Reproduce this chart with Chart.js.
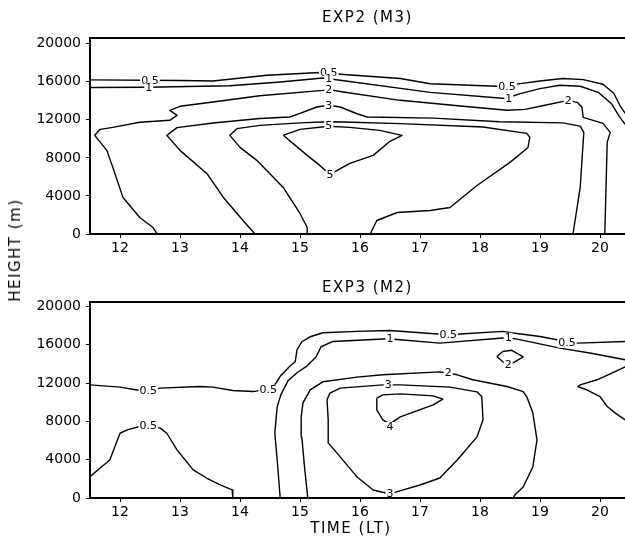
<!DOCTYPE html>
<html lang="en">
<head>
<meta charset="UTF-8" />
<title>EXP2 (M3) / EXP3 (M2)</title>
<script src="https://cdn.jsdelivr.net/npm/chart.js"></script>
<style>
  body { margin: 0; background: #fff; width: 625px; height: 549px; overflow: hidden; position: relative; font-family: 'DejaVu Sans', sans-serif; }
  canvas { position: absolute; left: 0; }
  #c1 { top: 0; }
  #c2 { top: 264px; }
  .lbl { position: absolute; font-size: 15px; letter-spacing: 1.5px; color: #000; white-space: nowrap; }
  #ylab { left: 15px; top: 250px; transform: translate(-50%, -50%) rotate(-90deg); }
  #xlab { left: 351px; top: 528px; transform: translate(-50%, -50%); }
</style>
</head>
<body>
  <canvas id="c1" width="645" height="264"></canvas>
  <canvas id="c2" width="645" height="285"></canvas>
  <div class="lbl" id="ylab">HEIGHT (m)</div>
  <div class="lbl" id="xlab">TIME (LT)</div>

<script>
  // axis ticks
  const timeTicks = [12, 13, 14, 15, 16, 17, 18, 19, 20];
  const heightTicks = [0, 4000, 8000, 12000, 16000, 20000];

  // EXP2 (M3) contours, [time (LT), height (m)]
  const exp2_c05 = [[11.5,16200],[13.0,16130],[13.55,16080],[14.45,16680],[15.33,16970],[15.67,16790],[16.67,16340],[17.17,15790],[18.28,15530],[18.67,15810],[19.0,16080],[19.38,16340],[19.72,16230],[20.05,15740],[20.23,14790],[20.33,13530],[20.42,12680]];
  const exp2_c1 = [[11.5,15390],[12.45,15420],[13.83,15580],[14.67,15980],[15.38,16400],[15.67,16160],[17.17,14890],[18.42,14240],[18.67,14760],[19.0,15280],[19.33,15630],[19.67,15530],[19.97,14890],[20.2,13630],[20.32,12370],[20.42,11530]];
  const exp2_c2 = [[12.62,0],[12.55,680],[12.33,1740],[12.05,3840],[11.88,7000],[11.78,8790],[11.58,10370],[11.67,11000],[11.88,11210],[12.33,11740],[12.83,11950],[12.95,12470],[12.83,13000],[13.0,13420],[13.55,13870],[14.33,14530],[15.38,15100],[15.48,15180],[15.72,14930],[16.67,14050],[17.72,13420],[18.45,13000],[18.75,13100],[19.08,13530],[19.47,14050],[19.62,13840],[19.7,13320],[19.72,12260],[20.05,11630],[20.17,10680],[20.12,9630],[20.08,0]];
  const exp2_c3 = [[14.25,0],[14.05,1420],[13.72,3870],[13.45,6340],[13.0,8790],[12.78,10370],[12.95,11180],[13.55,11660],[14.33,12140],[14.83,12300],[15.0,12680],[15.28,13350],[15.48,13530],[15.67,13350],[15.95,12640],[16.12,12300],[17.22,12180],[18.33,11790],[19.38,11680],[19.67,11340],[19.73,10680],[19.67,4890],[19.55,0]];
  const exp2_c4 = [[15.13,0],[15.12,680],[15.0,2160],[14.72,4890],[14.28,7740],[14.0,9100],[13.83,10370],[13.95,11070],[14.33,11420],[15.0,11680],[15.48,11790],[15.72,11770],[16.67,11600],[18.05,11240],[18.78,10580],[18.83,10160],[18.8,9100],[18.5,7530],[17.95,5100],[17.5,2790],[17.17,2470],[16.62,2260],[16.28,1420],[16.17,0]];
  const exp2_c5 = [[14.72,10370],[15.0,11000],[15.48,11320],[15.83,11210],[16.33,10890],[16.7,10370],[16.5,9740],[16.22,8260],[15.83,7420],[15.62,6680],[15.5,6260],[15.33,7210],[15.12,8260],[14.72,10370]];
  const exp2_labels = [["0.5",12.5,16160],["1",12.48,15370],["0.5",15.48,17000],["1",15.48,16320],["2",15.48,15160],["3",15.48,13530],["5",15.48,11420],["5",15.5,6210],["0.5",18.45,15530],["1",18.48,14230],["2",19.47,14050]];

  // EXP3 (M2) contours
  const exp3_c05 = [[11.5,11810],[12.0,11570],[12.33,11220],[12.47,11220],[12.67,11470],[13.33,11640],[13.55,11570],[13.88,11220],[14.22,11110],[14.47,11360],[14.58,11810],[14.67,12700],[14.83,13750],[14.92,14220],[14.95,15470],[15.03,16310],[15.17,16830],[15.38,17250],[15.95,17390],[16.5,17490],[17.12,17200],[17.47,17040],[17.67,17120],[18.38,17390],[18.55,17220],[19.0,16860],[19.28,16520],[19.45,16170],[19.63,16170],[20.42,16340]];
  const exp3_c05_low = [[11.5,2230],[11.67,3140],[11.83,3970],[12.0,6760],[12.12,7110],[12.33,7460],[12.47,7560],[12.67,7290],[12.78,6760],[12.95,5020],[13.22,2930],[13.45,2060],[13.67,1360],[13.87,840],[13.88,0]];
  const exp3_c05_right = [[20.42,13700],[20.17,12960],[19.95,12340],[19.67,11810],[19.63,11640],[19.78,11290],[20.0,10590],[20.12,9550],[20.25,8890],[20.42,8160]];
  const exp3_c1 = [[14.67,0],[14.62,3970],[14.58,6800],[14.62,9510],[14.68,10770],[14.8,12230],[14.95,13070],[15.12,13800],[15.27,14740],[15.35,15790],[15.55,16340],[16.38,16590],[16.5,16590],[16.67,16520],[17.33,16170],[18.38,16700],[18.47,16730],[18.62,16590],[19.33,15650],[19.83,15130],[20.42,14430]];
  const exp3_c2_small = [[18.28,14770],[18.38,15300],[18.53,15420],[18.72,14740],[18.58,14220],[18.47,13900],[18.38,14220],[18.28,14770]];
  const exp3_c2 = [[15.13,0],[15.08,2930],[15.03,6380],[15.02,8470],[15.05,9930],[15.17,11290],[15.38,12130],[15.95,12620],[16.38,12860],[17.33,13170],[17.47,13040],[17.62,12860],[17.88,12340],[18.45,11640],[18.72,11110],[18.78,10560],[18.88,8890],[18.95,6060],[18.88,3240],[18.72,1150],[18.58,310],[18.55,0]];
  const exp3_c3 = [[15.45,10250],[15.47,8160],[15.47,5750],[15.67,4290],[15.95,2200],[16.22,840],[16.5,420],[16.62,660],[17.0,1360],[17.33,2090],[17.62,3970],[17.95,6380],[18.05,8160],[18.03,10560],[17.95,11080],[17.5,11570],[16.67,11810],[16.38,11810],[15.67,11470],[15.5,10950],[15.45,10250]];
  const exp3_c4 = [[16.28,10420],[16.38,10770],[16.67,10870],[17.22,10660],[17.38,10320],[17.22,9720],[16.67,8470],[16.5,7740],[16.38,8160],[16.28,9200],[16.28,10420]];
  const exp3_labels = [["0.5",12.47,11220],["0.5",14.47,11360],["0.5",12.47,7560],["0.5",17.47,17040],["1",16.5,16590],["1",18.47,16780],["0.5",19.45,16170],["2",18.47,13900],["2",17.47,13040],["3",16.47,11810],["4",16.5,7460],["3",16.5,420]];

  Chart.defaults.font.family = "'DejaVu Sans', sans-serif";
  Chart.defaults.color = '#000';

  // contour value labels sitting in a gap of the line
  const contourLabels = {
    id: 'contourLabels',
    afterDatasetsDraw(chart, args, opts) {
      const { ctx, chartArea: a, scales: { x, y } } = chart;
      ctx.save();
      ctx.beginPath();
      ctx.rect(a.left + 1, a.top + 1, a.right - a.left - 2, a.bottom - a.top - 2);
      ctx.clip();
      ctx.font = "11px 'DejaVu Sans'";
      ctx.textAlign = 'center';
      ctx.textBaseline = 'middle';
      opts.items.forEach(([t, tx, ty]) => {
        const px = x.getPixelForValue(tx), py = y.getPixelForValue(ty);
        const w = ctx.measureText(t).width;
        ctx.fillStyle = '#fff';
        ctx.fillRect(px - w / 2 - 1, py - 4.5, w + 2, 9);
        ctx.fillStyle = '#000';
        ctx.fillText(t, px, py + 0.5);
      });
      ctx.restore();
    }
  };

  // top border of the plot box and the panel title
  const frame = {
    id: 'frame',
    afterDraw(chart, args, opts) {
      const { ctx, chartArea: a } = chart;
      ctx.save();
      ctx.strokeStyle = '#000';
      ctx.lineWidth = 2;
      ctx.beginPath();
      ctx.moveTo(a.left - 1, a.top);
      ctx.lineTo(a.right, a.top);
      ctx.stroke();
      ctx.font = "15px 'DejaVu Sans'";
      ctx.letterSpacing = '1.5px';
      ctx.textAlign = 'center';
      ctx.textBaseline = 'middle';
      ctx.fillStyle = '#000';
      ctx.fillText(opts.title, (a.left + a.right) / 2, opts.titleY);
      ctx.restore();
    }
  };

  function contour(points) {
    return {
      data: points.map(([x, y]) => ({ x, y })),
      borderColor: '#000',
      borderWidth: 1.4,
      borderJoinStyle: 'round',
      pointRadius: 0,
      tension: 0,
      fill: false
    };
  }

  function makeScales(yMax, xAxisHeight) {
    return {
      x: {
        type: 'linear', min: 11.5, max: 20.75,
        afterBuildTicks: s => { s.ticks = timeTicks.map(v => ({ value: v })); },
        afterFit: s => { s.height = xAxisHeight; },
        grid: { drawOnChartArea: false, color: '#000', tickLength: 4, tickWidth: 1 },
        border: { color: '#000', width: 2 },
        ticks: { font: { size: 14 }, color: '#000', padding: 2, maxRotation: 0, callback: v => String(v) }
      },
      y: {
        type: 'linear', min: 0, max: yMax,
        afterBuildTicks: s => { s.ticks = heightTicks.map(v => ({ value: v })); },
        afterFit: s => { s.width = 90; },
        grid: { drawOnChartArea: false, color: '#000', tickLength: 4, tickWidth: 1 },
        border: { color: '#000', width: 2 },
        ticks: { font: { size: 14 }, color: '#000', padding: 5, callback: v => String(v) }
      }
    };
  }

  function makeChart(id, sets, labels, title, titleY, yMax, xAxisHeight) {
    return new Chart(document.getElementById(id), {
      type: 'line',
      data: { datasets: sets.map(contour) },
      options: {
        responsive: false,
        animation: false,
        events: [],
        layout: { padding: { top: 38, left: 0, right: 0, bottom: 0 } },
        scales: makeScales(yMax, xAxisHeight),
        plugins: {
          legend: { display: false },
          tooltip: { enabled: false },
          contourLabels: { items: labels },
          frame: { title, titleY }
        }
      },
      plugins: [contourLabels, frame]
    });
  }

  makeChart('c1', [exp2_c05, exp2_c1, exp2_c2, exp2_c3, exp2_c4, exp2_c5], exp2_labels, 'EXP2 (M3)', 18, 20600, 30);
  makeChart('c2', [exp3_c05, exp3_c05_low, exp3_c05_right, exp3_c1, exp3_c2_small, exp3_c2, exp3_c3, exp3_c4], exp3_labels, 'EXP3 (M2)', 24, 20460, 51);
</script>
</body>
</html>
